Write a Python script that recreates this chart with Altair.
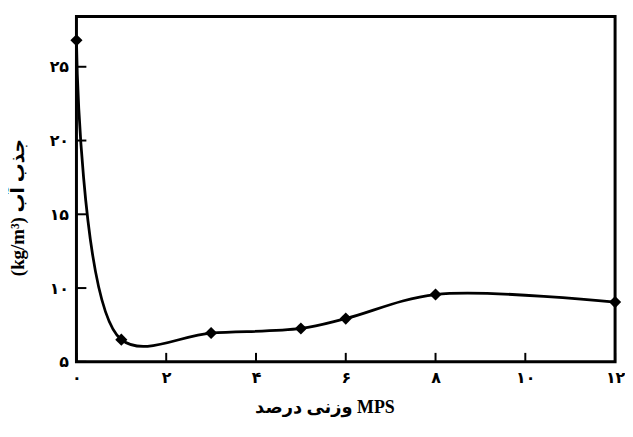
import altair as alt
import pandas as pd

# data
mps = [0, 1, 3, 5, 6, 8, 12]
absorption = [26.8, 6.5, 6.95, 7.26, 7.93, 9.56, 9.05]

x_ticks = [0, 2, 4, 6, 8, 10, 12]
x_tick_labels = ["۰", "۲", "۴", "۶", "۸", "۱۰", "۱۲"]
y_ticks = [5, 10, 15, 20, 25]
y_tick_labels = ["۵", "۱۰", "۱۵", "۲۰", "۲۵"]

x_title = "وزنی درصد MPS"
y_title = "(kg/m³) جذب آب"

W, H = 543, 348

df = pd.DataFrame({"x": mps, "y": absorption})
xt = pd.DataFrame({"x": x_ticks})
yt = pd.DataFrame({"y": y_ticks})


def label_expr(ticks, labels):
    expr = "''"
    for t, l in reversed(list(zip(ticks, labels))):
        expr = f"datum.value == {t} ? '{l}' : ({expr})"
    return expr


xscale = alt.Scale(domain=[0, 12], nice=False, zero=False)
yscale = alt.Scale(domain=[5, 28.4], nice=False, zero=False)

FONT = "Liberation Serif, DejaVu Sans"

xaxis = alt.Axis(
    values=x_ticks, labelExpr=label_expr(x_ticks, x_tick_labels),
    title=x_title, domain=False, ticks=False, grid=False,
    labelFont="DejaVu Sans", labelFontWeight="bold", labelFontSize=16,
    labelColor="black", labelPadding=8, labelFlush=False,
    titleFont=FONT, titleFontSize=18, titleFontWeight="bold",
    titleColor="black", titleX=250, titleY=46, titleAlign="center",
    titleBaseline="middle",
)
yaxis = alt.Axis(
    values=y_ticks, labelExpr=label_expr(y_ticks, y_tick_labels),
    title=y_title, domain=False, ticks=False, grid=False,
    labelFont="DejaVu Sans", labelFontWeight="bold", labelFontSize=16,
    labelColor="black", labelPadding=8, labelFlush=False,
    titleFont=FONT, titleFontSize=19, titleFontWeight="bold",
    titleColor="black", titleX=-59, titleY=192, titleAngle=-90,
    titleAlign="center", titleBaseline="middle",
)

line = alt.Chart(df).mark_line(
    interpolate="catmull-rom", color="black", strokeWidth=2.8
).encode(
    x=alt.X("x:Q", scale=xscale, axis=xaxis),
    y=alt.Y("y:Q", scale=yscale, axis=yaxis),
)

pts = alt.Chart(df).mark_point(
    shape="diamond", filled=True, color="black", size=150, opacity=1
).encode(
    x=alt.X("x:Q", scale=xscale),
    y=alt.Y("y:Q", scale=yscale),
)

xticks = alt.Chart(xt).mark_rule(color="black", strokeWidth=2).encode(
    x=alt.X("x:Q", scale=xscale),
    y=alt.value(H),
    y2=alt.value(H - 9),
)
yticks = alt.Chart(yt).mark_rule(color="black", strokeWidth=2).encode(
    y=alt.Y("y:Q", scale=yscale),
    x=alt.value(0),
    x2=alt.value(10),
)

chart = alt.layer(xticks, yticks, line, pts).properties(
    width=W, height=H,
    autosize="none",
    padding={"left": 69, "top": 7, "right": 10, "bottom": 60},
).configure(
    background="white"
).configure_view(
    stroke="black", strokeWidth=3
)

chart.save("out.html", embed_options={"renderer": "svg", "actions": False})
